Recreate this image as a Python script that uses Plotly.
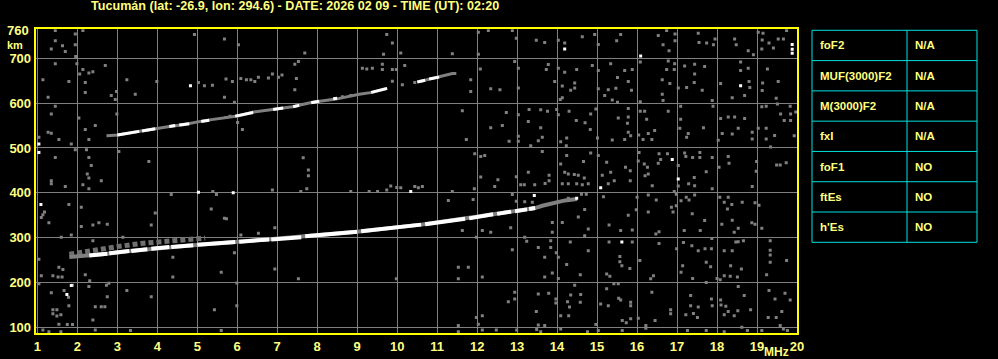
import plotly.graph_objects as go

W, H = 998, 359

title_text = "Tucumán (lat: -26.9, lon: 294.6) - DATE: 2026 02 09 - TIME (UT): 02:20"
freq_ticks = list(range(1, 21))
height_ticks = [100, 200, 300, 400, 500, 600, 700]
table_params = ["foF2", "MUF(3000)F2", "M(3000)F2", "fxI", "foF1", "ftEs", "h'Es"]
table_values = ["N/A", "N/A", "N/A", "N/A", "NO", "NO", "NO"]

# lower F trace (grey echo band underneath)
low_grey_f = [1.8, 2.3, 2.75, 3.3, 3.75, 4.3, 4.9, 5.95, 6.8, 7.6, 9.0, 10.6, 11.7, 12.4, 12.85, 13.25, 13.45, 13.63, 13.88, 14.2, 14.5]
low_grey_h = [257, 260, 264, 270, 274, 279, 283, 290, 296, 301, 313, 329, 342, 352, 358, 363, 366, 371, 377, 383, 386]
# grey fuzz above the lower trace at low frequencies
fuzz_f = [1.8, 2.3, 3.0, 3.6, 4.2, 4.8, 5.2]
fuzz_h = [263, 271, 280, 287, 292, 297, 299]
# lower trace bright segments
low_white_f = [2.3, 2.75, None, 2.8, 3.3, None, 3.35, 3.75, None, 3.85, 4.3, None, 4.35, 4.9, None,
               5.0, 5.95, None, 6.05, 6.8, None, 6.85, 7.6, None, 7.7, 9.0, None, 9.1, 10.6, None,
               10.7, 11.7, None, 11.8, 12.4, None, 12.5, 12.85, None, 12.95, 13.25, None, 13.3, 13.45]
low_white_h = [260, 264, None, 265, 270, None, 270, 274, None, 275, 279, None, 279, 283, None,
               284, 290, None, 291, 296, None, 296, 301, None, 303, 313, None, 314, 329, None,
               330, 342, None, 343, 352, None, 353, 358, None, 359, 363, None, 364, 366]
# upper (second hop) trace
up_grey_f = [2.73, 3.02, 3.48, 3.98, 4.31, 4.64, 5.18, 6.05, 6.38, 6.97, 7.38, 7.88, 8.47, 9.05, 9.38, 9.72, None,
             10.55, 10.8, 11.05, 11.38, 11.48]
up_grey_h = [527, 529, 536, 544, 548, 552, 561, 572, 580, 587, 592, 602, 609, 620, 624, 632, None,
             648, 654, 659, 666, 666]
up_white_f = [3.0, 3.55, None, 3.62, 3.95, None, 4.3, 4.45, None, 4.55, 4.8, None, 5.1, 5.3, None,
              5.95, 6.4, None, 6.9, 7.15, None, 7.4, 7.55, None, 7.85, 8.05, None, 8.4, 8.5, None,
              9.35, 9.75, None, 10.5, 10.7, None, 10.8, 11.05]
up_white_h = [529, 537, None, 538, 543, None, 548, 550, None, 551, 554, None, 559, 562, None,
              571, 579, None, 586, 589, None, 592, 595, None, 601, 604, None, 610, 611, None,
              624, 633, None, 647, 651, None, 654, 658]

noise_f = [
    1.45, 1.95, 2.14, 1.45, 1.63, 1.7, 1.35, 1.95, 1.96, 4.93, 5.68, 1.45, 1.99, 2.7, 2.14, 2.29, 2.39, 2.06, 1.14, 1.79,
    2.2, 3.24, 3.99, 2.2, 2.98, 2.85, 2.95, 3.45, 1.27, 5.03, 5.18, 5.38, 5.68, 1.45, 1.35, 2.04, 2.99, 2.45, 2.2, 1.27,
    1.35, 1.04, 1.54, 1.85, 2.29, 1.95, 2.23, 2.29, 1.45, 3.04, 2.35, 3.79, 2.25, 2.29, 1.35, 1.35, 2.14, 2.6, 1.7, 2.29,
    4.35, 5.39, 5.48, 1.79, 1.18, 1.14, 1.1, 2.1, 1.29, 2.54, 2.75, 2.39, 2.1, 3.95, 5.35, 3.85, 5.68, 1.85, 1.6, 2.39,
    3.14, 1.04, 1.54, 1.64, 1.1, 1.39, 1.52, 1.62, 2.2, 2.31, 4.39, 4.39, 5.6, 1.04, 1.88, 1.78, 1.35, 1.67, 1.79, 2.73,
    2.79, 2.29, 2.75, 3.24, 3.85, 2.45, 2.69, 2.6, 1.39, 1.49, 1.39, 1.49, 1.59, 5.43, 2.39, 1.54, 1.75, 1.88, 1.14, 1.29,
    1.59, 2.45, 3.33, 5.6,
    9.74, 9.88, 6.03, 7.69, 9.66, 10.09, 7.44, 7.53, 5.72, 5.88, 6.09, 6.23, 6.34, 6.44, 6.53, 6.78, 6.88, 7.03, 7.12, 7.48,
    9.13, 9.24, 9.38, 9.63, 9.63, 9.88, 9.98, 10.19, 9.88, 10.13, 10.44, 7.44, 8.63, 8.84, 5.93, 5.72, 5.82, 6.01, 6.13, 7.65,
    7.78, 7.78, 7.74, 6.88, 7.59, 8.84, 9.3, 9.51, 9.74, 9.84, 9.99, 10.09, 10.44, 5.73, 6.94, 6.09, 6.53, 5.93, 6.94, 7.53,
    9.98, 5.99, 5.99,
    12.03, 12.28, 12.88, 12.98, 13.48, 13.69, 14.03, 14.19, 14.63, 14.94, 15.03, 12.03, 11.38, 12.94, 13.03, 12.08, 13.78, 13.73, 14.03, 14.19,
    14.49, 14.88, 15.03, 11.84, 11.84, 12.34, 12.57, 13.03, 13.94, 14.13, 14.34, 14.44, 14.44, 15.03, 15.19, 14.13, 14.08, 11.63, 12.73, 13.3,
    13.03, 13.59, 13.76, 13.99, 14.03, 14.3, 14.84, 14.48, 14.7, 14.83, 14.97, 12.63, 12.34, 13.28, 13.59, 13.63, 13.53, 13.03, 13.03, 12.8,
    11.73, 14.09, 14.24, 15.01, 13.34, 14.23, 13.63, 14.84, 15.03, 11.94, 12.09, 12.19, 14.24, 14.09, 14.66, 13.28, 14.19, 14.28, 14.43, 14.53,
    14.68, 13.8, 13.8, 12.09, 12.98, 12.44, 12.52, 10.53, 10.63, 11.93, 13.09, 13.18, 13.44, 13.7, 14.13, 14.28, 14.49, 14.63, 14.78, 15.13,
    11.38, 12.88, 12.98, 13.38, 13.19, 14.28, 14.61, 14.73, 15.16, 11.28, 11.9, 14.69, 14.53, 14.78, 14.69, 13.88, 14.13, 13.88, 11.63, 12.13,
    12.34, 12.84, 11.98, 13.19, 13.24, 12.88, 13.53, 13.84, 13.84, 13.98, 14.03, 13.69, 14.33, 14.78, 14.24, 11.53, 11.78, 11.53, 12.13, 13.69,
    13.88, 14.03, 14.58, 14.44, 12.94, 12.94, 12.78, 13.53, 13.79, 13.97, 13.97, 14.26, 14.31, 14.34, 14.58, 14.59, 15.09, 13.48, 12.13, 14.09,
    14.29, 11.98, 12.03, 11.53, 13.53, 13.69, 14.09, 13.49, 13.59, 14.97, 15.03, 12.13, 12.48, 11.53, 12.99, 14.76,
    15.59, 15.49, 16.53, 16.74, 16.95, 16.95, 16.65, 16.8, 17.53, 17.55, 17.74, 17.95, 17.91, 18.44, 18.48, 18.78, 18.91, 19.03, 19.15, 19.13,
    19.12, 19.3, 19.53, 19.66, 19.41, 19.74, 15.34, 15.69, 15.88, 15.51, 15.78, 15.28, 15.47, 15.86, 15.38, 15.51, 16.08, 16.78, 16.94, 16.74,
    16.93, 16.63, 16.82, 16.63, 16.65, 16.08, 17.19, 17.44, 17.69, 17.44, 17.43, 17.24, 17.63, 17.03, 17.88, 18.59, 18.59, 18.78, 18.8, 18.82,
    18.69, 18.38, 18.09, 19.14, 19.26, 19.13, 19.53, 19.48, 15.78, 15.78, 15.53, 15.76, 15.78, 15.84, 15.38, 15.69, 16.08, 16.19, 16.78, 16.24,
    16.44, 16.28, 16.04, 16.15, 16.37, 17.09, 17.09, 17.28, 17.24, 17.07, 17.66, 17.9, 18.09, 18.28, 18.44, 18.69, 18.13, 18.03, 18.53, 18.88,
    18.38, 18.88, 19.12, 19.23, 19.51, 19.83, 19.84, 19.84, 19.59, 19.68, 19.97, 19.03, 19.23, 19.23, 19.44, 19.93, 19.34, 15.24, 15.34, 15.71,
    15.83, 15.83, 15.28, 15.43, 16.05, 16.03, 16.18, 16.26, 16.2, 16.28, 16.38, 16.55, 16.59, 16.53, 16.76, 17.03, 17.19, 17.22, 17.39, 17.57,
    17.57, 17.73, 17.43, 17.29, 17.44, 17.88, 17.03, 16.93, 18.28, 18.3, 18.05, 18.99, 19.49, 19.58, 19.73, 18.88, 18.98, 17.88, 16.0, 16.28,
    16.48, 16.28, 15.98, 16.9, 16.86, 16.98, 16.98, 17.23, 17.44, 17.38, 17.3, 17.1, 17.69, 17.58, 17.18, 18.07, 18.18, 18.28, 18.37, 18.26,
    18.12, 18.38, 18.43, 18.53, 18.63, 18.95, 19.05, 18.95, 19.12, 18.87, 15.59, 15.88, 15.78, 15.3, 16.47, 16.55, 15.88, 15.3, 15.57, 15.57,
    15.62, 15.82, 16.07, 16.55, 16.99, 17.16, 17.37, 17.53, 17.7, 17.87, 17.86, 17.73, 17.84, 17.14, 17.1, 17.39, 17.73, 18.18, 18.38, 18.47,
    18.53, 18.66, 18.34, 18.61, 18.51, 18.33, 18.18, 18.08, 18.0, 19.33, 19.33, 19.33, 19.33, 19.74, 19.24, 15.24, 15.32, 16.34, 16.41, 15.42,
    15.53, 15.24, 16.37, 15.28, 15.54, 15.59, 15.84, 15.84, 16.03, 15.63, 15.73, 15.63, 16.22, 16.45, 16.84, 16.84, 17.22, 17.34, 17.34, 17.41,
    17.53, 17.51, 17.26, 17.73, 17.86, 17.88, 18.09, 18.1, 18.22, 18.28, 18.18, 18.43, 18.52, 18.84, 18.68, 18.53, 19.3, 19.45, 19.7, 19.83,
    19.62, 19.48, 19.28, 19.58, 19.66, 19.76, 19.12, 18.76, 18.62, 18.18, 16.22, 15.84,
]
noise_h = [
    762, 754, 762, 739, 728, 715, 721, 730, 704, 753, 743, 688, 688, 684, 675, 667, 670, 665, 652, 648,
    646, 652, 648, 624, 626, 617, 608, 620, 613, 646, 639, 640, 613, 593, 576, 567, 576, 550, 541, 535,
    533, 524, 519, 509, 519, 496, 496, 479, 479, 492, 461, 470, 442, 433, 427, 420, 418, 427, 414, 409,
    396, 403, 396, 374, 357, 351, 345, 368, 333, 333, 330, 328, 325, 355, 364, 328, 343, 306, 301, 293,
    301, 252, 234, 229, 215, 215, 212, 212, 217, 204, 212, 256, 223, 197, 194, 167, 177, 182, 148, 194,
    198, 191, 168, 182, 168, 146, 146, 146, 139, 139, 130, 125, 128, 139, 116, 107, 106, 106, 94, 90,
    90, 94, 93, 93,
    753, 734, 730, 712, 709, 712, 687, 693, 654, 648, 655, 652, 652, 648, 658, 656, 665, 658, 663, 655,
    678, 676, 678, 687, 675, 675, 675, 684, 649, 641, 646, 630, 614, 617, 602, 568, 571, 557, 541, 478,
    451, 438, 409, 406, 403, 403, 403, 403, 406, 415, 412, 411, 414, 342, 322, 306, 310, 266, 230, 208,
    208, 199, 148,
    758, 762, 762, 745, 740, 735, 740, 734, 748, 753, 731, 709, 710, 693, 678, 676, 686, 675, 678, 669,
    675, 684, 673, 652, 626, 632, 630, 634, 648, 638, 629, 645, 634, 632, 617, 612, 608, 583, 579, 586,
    574, 585, 582, 586, 574, 582, 576, 561, 556, 541, 587, 550, 545, 559, 545, 524, 516, 526, 515, 515,
    519, 514, 522, 522, 505, 505, 492, 489, 483, 487, 481, 483, 483, 464, 470, 446, 446, 442, 441, 439,
    433, 439, 427, 435, 436, 414, 429, 411, 414, 409, 418, 418, 418, 421, 420, 420, 420, 418, 420, 439,
    403, 396, 381, 379, 380, 388, 397, 397, 391, 383, 385, 363, 346, 319, 304, 334, 334, 312, 316, 316,
    312, 322, 301, 301, 292, 273, 278, 293, 278, 266, 256, 256, 290, 271, 240, 234, 234, 208, 212, 212,
    221, 209, 217, 194, 178, 163, 157, 174, 176, 163, 154, 157, 145, 172, 156, 173, 152, 135, 126, 126,
    126, 122, 107, 104, 105, 104, 96, 95, 90, 106, 93, 94, 94, 90, 94, 90,
    753, 739, 751, 762, 754, 739, 730, 717, 756, 735, 734, 743, 730, 743, 730, 717, 708, 758, 756, 741,
    721, 734, 743, 743, 723, 762, 688, 673, 675, 657, 648, 630, 633, 629, 607, 602, 692, 694, 688, 675,
    675, 652, 644, 620, 606, 603, 683, 687, 682, 665, 646, 635, 629, 634, 606, 692, 673, 678, 648, 635,
    617, 612, 644, 645, 676, 628, 648, 611, 588, 569, 567, 555, 535, 527, 518, 519, 582, 582, 582, 564,
    539, 532, 529, 519, 519, 593, 564, 532, 524, 544, 545, 593, 566, 569, 569, 566, 532, 517, 544, 535,
    531, 520, 592, 593, 598, 593, 576, 561, 576, 561, 580, 544, 544, 520, 528, 527, 502, 468, 446, 457,
    449, 427, 420, 427, 490, 471, 464, 457, 438, 442, 416, 487, 474, 466, 487, 461, 489, 481, 479, 490,
    479, 447, 434, 420, 416, 479, 415, 403, 481, 466, 457, 470, 462, 462, 467, 414, 448, 409, 390, 395,
    384, 357, 362, 357, 368, 371, 397, 390, 395, 353, 384, 382, 338, 316, 316, 390, 379, 390, 374, 364,
    330, 339, 312, 321, 379, 378, 372, 330, 321, 333, 316, 317, 350, 328, 308, 313, 290, 290, 258, 246,
    237, 231, 249, 287, 275, 289, 282, 271, 275, 298, 275, 245, 235, 237, 223, 209, 200, 271, 271, 290,
    291, 293, 237, 230, 212, 214, 215, 206, 209, 293, 272, 261, 245, 249, 217, 219, 214, 208, 215, 197,
    197, 186, 178, 148, 165, 161, 156, 148, 120, 115, 110, 93, 104, 115, 139, 130, 128, 171, 148, 131,
    145, 122, 93, 93, 163, 148, 161, 150, 147, 135, 128, 126, 137, 139, 171, 191, 182, 163, 176, 161,
    135, 122, 122, 104, 96, 93, 93, 93, 100, 90, 98, 119,
]
bright_f = [1.04, 1.04, 1.09, 4.83, 5.03, 5.9, 10.34, 14.19, 13.43, 14.49, 15.09, 16.09, 18.59, 16.88, 17.03, 15.62, 19.88, 19.88, 19.88, 1.85, 1.74]
bright_h = [509, 490, 374, 639, 401, 400, 403, 721, 394, 388, 411, 705, 639, 474, 431, 290, 731, 720, 711, 193, 173]

TXT = "#ffff80"
FRAME = "#ffff00"
GRID = "#808080"
FONT = "Liberation Sans, Arial, sans-serif"

# pixel layout of the plot frame
PL, PR, PT, PB = 35.7, 797.0, 29.3, 333.3

fig = go.Figure()
fig.add_trace(go.Scatter(x=fuzz_f, y=fuzz_h, mode="lines",
                         line=dict(color="#707070", width=5, dash="5px,3px"),
                         hoverinfo="skip", showlegend=False))
fig.add_trace(go.Scatter(x=low_grey_f, y=low_grey_h, mode="lines", line=dict(color=GRID, width=4),
                         hoverinfo="skip", showlegend=False))
fig.add_trace(go.Scatter(x=up_grey_f, y=up_grey_h, mode="lines", line=dict(color=GRID, width=3),
                         hoverinfo="skip", showlegend=False))
fig.add_trace(go.Scatter(x=noise_f, y=noise_h, mode="markers",
                         marker=dict(symbol="square", size=3, color=GRID, line=dict(width=0)),
                         hoverinfo="skip", showlegend=False))
fig.add_trace(go.Scatter(x=low_white_f, y=low_white_h, mode="lines", line=dict(color="#ffffff", width=4),
                         connectgaps=False, hoverinfo="skip", showlegend=False))
fig.add_trace(go.Scatter(x=up_white_f, y=up_white_h, mode="lines", line=dict(color="#ffffff", width=3),
                         connectgaps=False, hoverinfo="skip", showlegend=False))
fig.add_trace(go.Scatter(x=bright_f, y=bright_h, mode="markers",
                         marker=dict(symbol="square", size=3, color="#ffffff", line=dict(width=0)),
                         hoverinfo="skip", showlegend=False))

fig.update_layout(
    width=W, height=H, autosize=False,
    margin=dict(l=0, r=0, t=0, b=0, pad=0, autoexpand=False),
    paper_bgcolor="#000000", plot_bgcolor="#000000",
    font=dict(family=FONT, color=TXT, size=12),
    showlegend=False,
    xaxis=dict(domain=[PL / W, PR / W], range=[0.96, 20.0], tickvals=freq_ticks, automargin=False,
               ticktext=[str(v) for v in freq_ticks], showgrid=True, gridcolor=GRID, gridwidth=1,
               zeroline=False, showline=True, mirror=True, linecolor=FRAME, linewidth=2, ticks="",
               tickfont=dict(family=FONT, size=13, color=TXT, weight="bold")),
    yaxis=dict(domain=[1 - PB / H, 1 - PT / H], range=[86.6, 764.7], tickvals=height_ticks, automargin=False,
               ticktext=[str(v) for v in height_ticks], showgrid=True, gridcolor=GRID, gridwidth=1,
               zeroline=False, showline=True, mirror=True, linecolor=FRAME, linewidth=2, ticks="",
               tickfont=dict(family=FONT, size=13, color=TXT, weight="bold")),
)

ann = []
ann.append(dict(text="<b>" + title_text + "</b>", x=294.5 / W, y=1 - 6.5 / H, xref="paper", yref="paper",
                xanchor="center", yanchor="middle", showarrow=False, font=dict(family=FONT, size=12.6, color=TXT)))
ann.append(dict(text="<b>760</b>", x=31.5 / W, y=1 - 30.5 / H, xref="paper", yref="paper", xanchor="right",
                yanchor="middle", showarrow=False, font=dict(family=FONT, size=13, color=TXT)))
ann.append(dict(text="<b>km</b>", x=5 / W, y=1 - 44.8 / H, xref="paper", yref="paper", xanchor="left",
                yanchor="middle", showarrow=False, font=dict(family=FONT, size=11, color=TXT)))
ann.append(dict(text="<b>MHz</b>", x=776 / W, y=1 - 351.5 / H, xref="paper", yref="paper", xanchor="center",
                yanchor="middle", showarrow=False, font=dict(family=FONT, size=12, color=TXT)))

# parameter table
TL, TM, TR, TT, TB = 812.0, 907.0, 977.0, 30.3, 242.3
n = len(table_params)
rh = (TB - TT) / n
shapes = []
CY = "#00e0e0"
for i in range(n + 1):
    yp = 1 - (TT + i * rh) / H
    shapes.append(dict(type="line", xref="paper", yref="paper", x0=TL / W, x1=TR / W, y0=yp, y1=yp,
                       line=dict(color=CY, width=1)))
for xx in (TL, TM, TR):
    shapes.append(dict(type="line", xref="paper", yref="paper", x0=xx / W, x1=xx / W,
                       y0=1 - TT / H, y1=1 - TB / H, line=dict(color=CY, width=1)))
for i, (p, v) in enumerate(zip(table_params, table_values)):
    yc = 1 - (TT + (i + 0.5) * rh) / H
    ann.append(dict(text="<b>" + p + "</b>", x=(TL + 6) / W, y=yc, xref="paper", yref="paper",
                    xanchor="left", yanchor="middle", showarrow=False, font=dict(family=FONT, size=11.5, color=TXT)))
    ann.append(dict(text="<b>" + v + "</b>", x=(TM + 6) / W, y=yc, xref="paper", yref="paper",
                    xanchor="left", yanchor="middle", showarrow=False, font=dict(family=FONT, size=11.5, color=TXT)))

fig.update_layout(annotations=ann, shapes=shapes)
fig.write_html("out.html")
